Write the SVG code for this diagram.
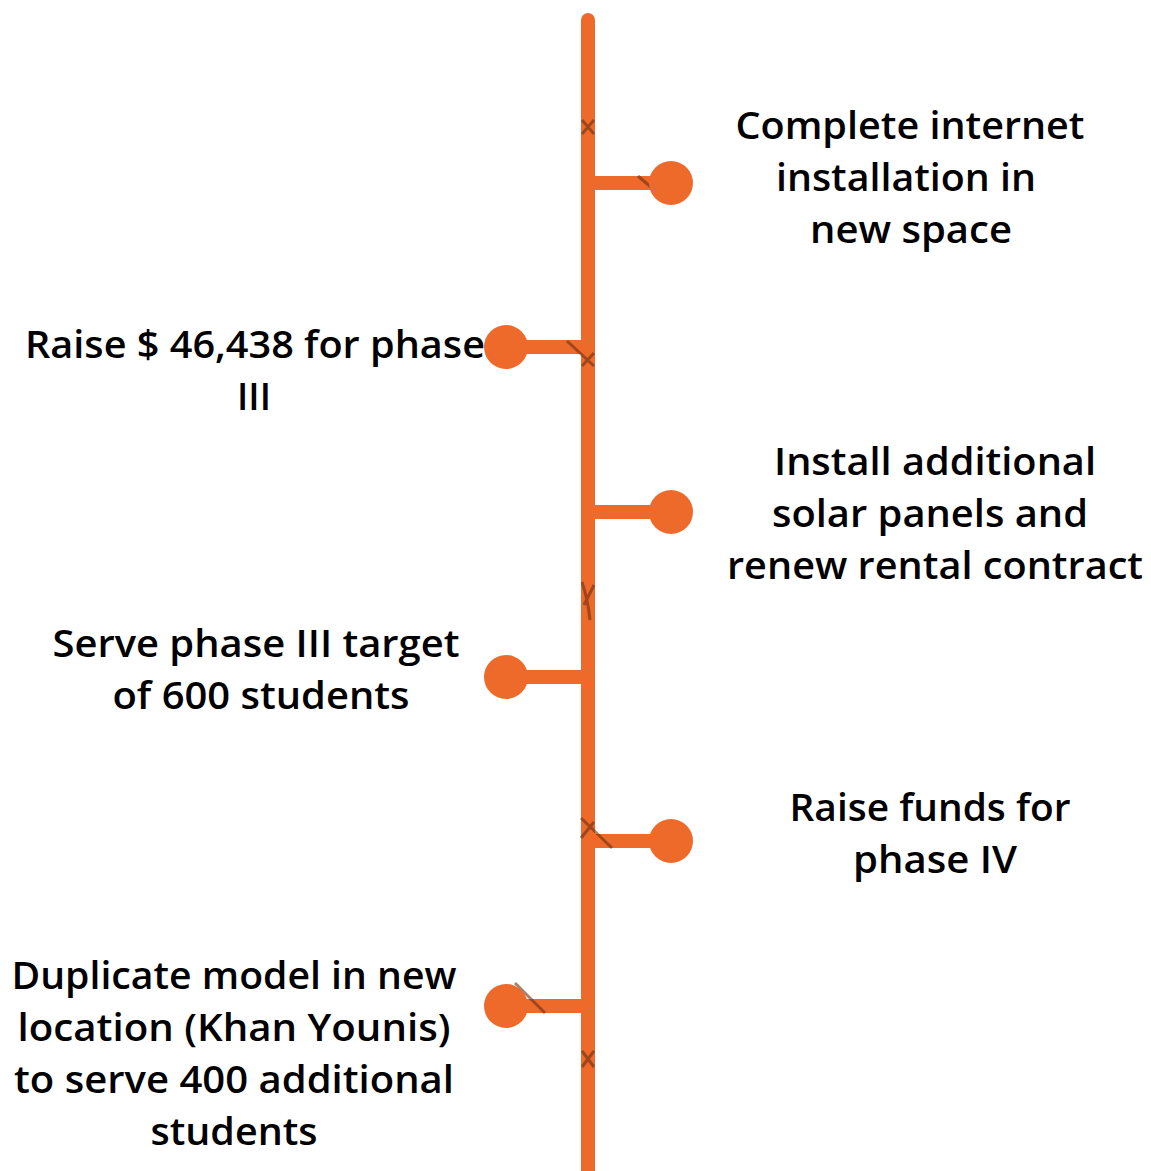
<svg xmlns="http://www.w3.org/2000/svg" width="1151" height="1171" viewBox="0 0 1151 1171">
<style>
.ln{stroke:#EE6A2B;stroke-width:14;fill:none}
.dot{fill:#EE6A2B}
.mk{stroke:#6B2E12;stroke-width:3;stroke-opacity:0.6;fill:none}
text{font-family:"Open Sans","Liberation Sans",sans-serif;font-weight:600;font-size:37px;fill:#000;text-anchor:middle}
</style>
<rect width="1151" height="1171" fill="#fff"/>
<g id="connectors">
<line class="ln" x1="588" y1="20" x2="588" y2="1171" stroke-linecap="round"/>
<line class="ln" x1="588" y1="183" x2="671" y2="183"/>
<line class="ln" x1="506" y1="347" x2="588" y2="347"/>
<line class="ln" x1="588" y1="512" x2="671" y2="512"/>
<line class="ln" x1="506" y1="677" x2="588" y2="677"/>
<line class="ln" x1="588" y1="841" x2="671" y2="841"/>
<line class="ln" x1="506" y1="1006" x2="588" y2="1006"/>
<g id="marks">
<path class="mk" d="M582 120 L594 134 M594 120 L582 134"/>
<path class="mk" d="M638 176 L668 202"/>
<path class="mk" d="M567 341 L594 366 M582 366 L594 353"/>
<path class="mk" d="M582 582 Q588 600 590 620 M594 585 L584 605"/>
<path class="mk" d="M581 818 L612 848 M581 838 L594 822"/>
<path class="mk" d="M515 983 L545 1013"/>
<path class="mk" d="M582 1051 L594 1067 M594 1051 L582 1067"/>
</g>
</g>
<g id="node1"><circle class="dot" cx="671" cy="183" r="22"/>
<text x="910" y="139" textLength="349" lengthAdjust="spacingAndGlyphs">Complete internet</text><text x="906" y="191" textLength="260" lengthAdjust="spacingAndGlyphs">installation in</text><text x="911" y="243" textLength="202" lengthAdjust="spacingAndGlyphs">new space</text></g>
<g id="node2"><circle class="dot" cx="506" cy="347" r="22"/>
<text x="255" y="358" textLength="460" lengthAdjust="spacingAndGlyphs">Raise $ 46,438 for phase</text><text x="254" y="410">III</text></g>
<g id="node3"><circle class="dot" cx="671" cy="512" r="22"/>
<text x="935" y="475" textLength="322" lengthAdjust="spacingAndGlyphs">Install additional</text><text x="930" y="527" textLength="316" lengthAdjust="spacingAndGlyphs">solar panels and</text><text x="935" y="579" textLength="416" lengthAdjust="spacingAndGlyphs">renew rental contract</text></g>
<g id="node4"><circle class="dot" cx="506" cy="677" r="22"/>
<text x="256" y="657" textLength="407" lengthAdjust="spacingAndGlyphs">Serve phase III target</text><text x="261" y="709" textLength="297" lengthAdjust="spacingAndGlyphs">of 600 students</text></g>
<g id="node5"><circle class="dot" cx="671" cy="841" r="22"/>
<text x="930" y="821" textLength="281" lengthAdjust="spacingAndGlyphs">Raise funds for</text><text x="935" y="873" textLength="164" lengthAdjust="spacingAndGlyphs">phase IV</text></g>
<g id="node6"><circle class="dot" cx="506" cy="1006" r="22"/>
<text x="234" y="989" textLength="445" lengthAdjust="spacingAndGlyphs">Duplicate model in new</text><text x="234" y="1041" textLength="433" lengthAdjust="spacingAndGlyphs">location (Khan Younis)</text><text x="234" y="1093" textLength="440" lengthAdjust="spacingAndGlyphs">to serve 400 additional</text><text x="234" y="1145" textLength="167" lengthAdjust="spacingAndGlyphs">students</text></g>
</svg>
